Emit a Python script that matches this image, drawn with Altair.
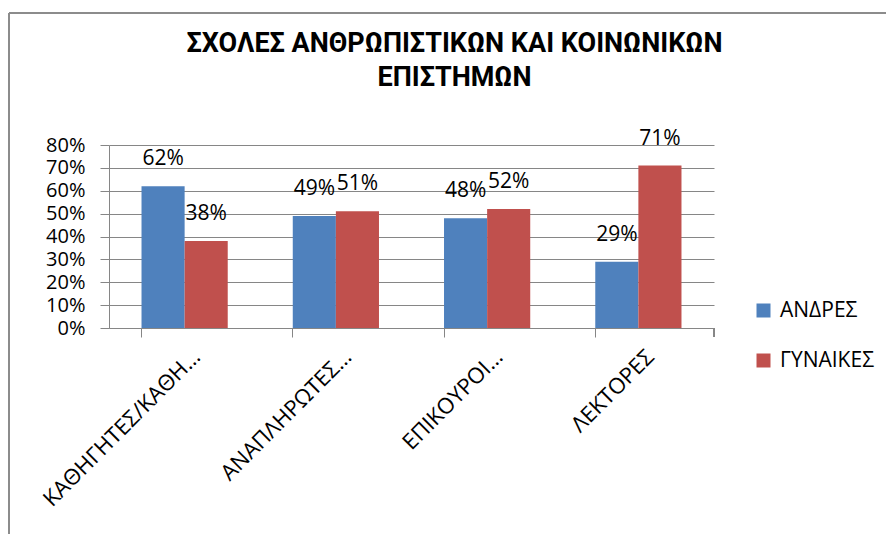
import altair as alt
import pandas as pd

categories = ["ΚΑΘΗΓΗΤΕΣ/ΚΑΘΗ…", "ΑΝΑΠΛΗΡΩΤΕΣ…", "ΕΠΙΚΟΥΡΟΙ…", "ΛΕΚΤΟΡΕΣ"]
series = ["ΑΝΔΡΕΣ", "ΓΥΝΑΙΚΕΣ"]
men = [0.62, 0.49, 0.48, 0.29]
women = [0.38, 0.51, 0.52, 0.71]
colors = ["#4F81BD", "#C0504D"]
title_lines = ["ΣΧΟΛΕΣ ΑΝΘΡΩΠΙΣΤΙΚΩΝ ΚΑΙ ΚΟΙΝΩΝΙΚΩΝ", "ΕΠΙΣΤΗΜΩΝ"]
y_ticks = [0, 0.1, 0.2, 0.3, 0.4, 0.5, 0.6, 0.7, 0.8]

rows = []
for c, m, w in zip(categories, men, women):
    rows.append({"cat": c, "series": series[0], "value": m})
    rows.append({"cat": c, "series": series[1], "value": w})
df = pd.DataFrame(rows)

FONT = "Open Sans"
W, H = 605, 183

x = alt.X("cat:N", sort=categories, title=None,
          scale=alt.Scale(paddingInner=0.43, paddingOuter=0.215),
          axis=alt.Axis(labelAngle=-45, labelAlign="right", labelBaseline="middle",
                        labelFontSize=22, labelFont=FONT, labelColor="black",
                        bandPosition=0, tickSize=9, tickColor="#868686",
                        domainColor="#868686", labelPadding=16, grid=False,
                        labelLimit=400, labelOffset=12, labelOverlap=False))
xo = alt.XOffset("series:N", sort=series)
y = alt.Y("value:Q", title=None,
          scale=alt.Scale(domain=[0, 0.8]),
          axis=alt.Axis(values=y_ticks, format=".0%", labelOverlap=False,
                        labelFontSize=20, labelFont=FONT, labelColor="black",
                        tickSize=9, tickColor="#868686", domainColor="#868686",
                        gridColor="#868686", gridWidth=1, labelPadding=15))

bars = alt.Chart(df).mark_bar().encode(
    x=x, xOffset=xo, y=y,
    color=alt.Color("series:N", sort=series, title=None,
                    scale=alt.Scale(domain=series, range=colors),
                    legend=alt.Legend(orient="none", legendX=644, legendY=155,
                                      symbolType="square", symbolSize=196,
                                      symbolStrokeWidth=0, labelFontSize=21,
                                      labelFont=FONT, labelColor="black",
                                      labelOffset=6, rowPadding=28, padding=0)),
)

labels = alt.Chart(df).mark_text(fontSize=21, font=FONT, color="black",
                                 baseline="middle", dy=-27).encode(
    x=x, xOffset=xo, y=y,
    text=alt.Text("value:Q", format=".0%"),
)

end_tick = alt.Chart(df).mark_rule(color="#868686").encode(
    x=alt.value(W), y=alt.value(H), y2=alt.value(H + 9))

border_left = alt.Chart(df).mark_rule(color="#8c8c8c", strokeWidth=2, clip=False).encode(
    x=alt.value(-100), y=alt.value(-132), y2=alt.value(420))
border_top = alt.Chart(df).mark_rule(color="#8c8c8c", strokeWidth=2, clip=False).encode(
    x=alt.value(-100), x2=alt.value(800), y=alt.value(-132))

chart = alt.layer(bars, labels, end_tick, border_left, border_top).properties(
    width=W, height=H,
    padding={"left": 101, "top": 137, "right": 172, "bottom": 206},
    autosize=alt.AutoSizeParams(type="none"),
    title=alt.Title(title_lines, font="Roboto", fontSize=27,
                    fontWeight="bold", color="black", anchor="middle",
                    dx=43, offset=0, dy=80, lineHeight=34),
).configure_view(stroke=None)

chart.save("out.html", embed_options={"renderer": "svg", "actions": False})
